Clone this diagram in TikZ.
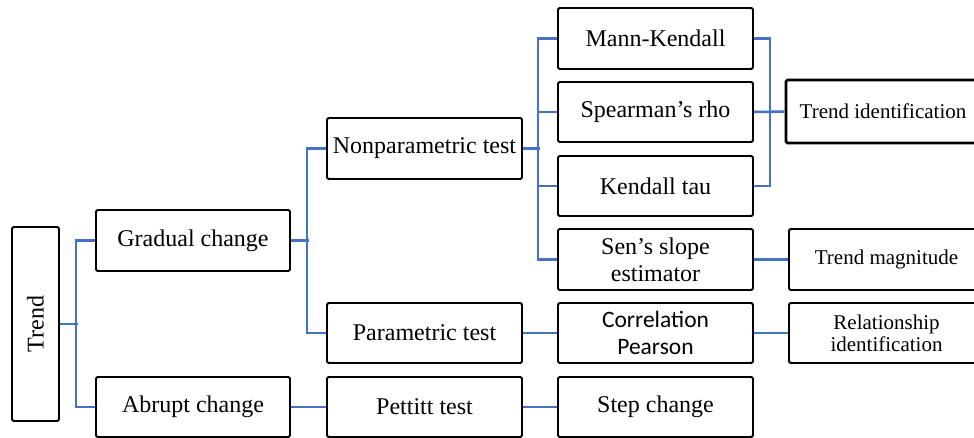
\documentclass[tikz,border=0pt]{standalone}
\usepackage{fontspec}
\usepackage{graphicx}
\setmainfont{Liberation Serif}
\newfontfamily\calfont{Carlito}
\definecolor{linkblue}{RGB}{68,114,196}
\begin{document}
\begin{tikzpicture}[x=1pt,y=-1pt,
  box/.style={draw=black, line width=1.9pt, rounded corners=1.5pt, inner sep=0pt, align=center,
    minimum width=195pt, minimum height=61pt, font=\fontsize{24}{27}\selectfont},
  rbox/.style={box, font=\fontsize{21}{22}\selectfont},
  conn/.style={draw=linkblue, line width=2.5pt}]
\useasboundingbox (0,0) rectangle (974,437);
% column 1
\node[box, minimum width=47pt, minimum height=194pt] (trend) at (35.5,324) {\rotatebox{90}{Trend}};
% column 2
\node[box, minimum width=194pt] (gradual) at (193,240.5) {Gradual change};
\node[box, minimum width=194pt, minimum height=60pt] (abrupt) at (193,407) {Abrupt change};
% column 3
\node[box] (nonpar) at (424.5,148.5) {Nonparametric test};
\node[box, minimum height=60pt] (param) at (424.5,333) {Parametric test};
\node[box, minimum height=60pt] (pettitt) at (424.5,407) {Pettitt test};
% column 4
\node[box] (mann) at (655.5,38.5) {Mann-Kendall};
\node[box, minimum height=60pt] (spear) at (655.5,112) {Spearman’s rho};
\node[box, minimum height=60pt] (kendall) at (655.5,186) {Kendall tau};
\node[box] (sen) at (655.5,259.5) {Sen’s slope\\estimator};
\node[box, minimum height=60pt, font=\calfont\fontsize{23.5}{27}\selectfont] (corr) at (655.5,333) {Correlation\\Pearson};
\node[box, minimum height=60pt] (step) at (655.5,407) {Step change};
% column 5
\node[rbox, line width=2.6pt, minimum width=194pt, minimum height=63pt] (trendid) at (883,111.5) {Trend identification};
\node[rbox] (trendmag) at (886.5,259.5) {Trend magnitude};
\node[rbox, minimum height=60pt] (relid) at (886.5,333) {Relationship\\identification};
% connectors
\draw[conn] (trend.east) -- ++(18,0);
\draw[conn] (gradual.west) -- ++(-19,0) |- (abrupt.west);
\draw[conn] (gradual.east) -- ++(18,0);
\draw[conn] (nonpar.west) -- ++(-19,0) |- (param.west);
\draw[conn] (nonpar.east) -- ++(17,0);
\draw[conn] (mann.west) -- ++(-19,0) |- (sen.west);
\draw[conn] (spear.west) -- ++(-19,0);
\draw[conn] (kendall.west) -- ++(-19,0);
\draw[conn] (mann.east) -- ++(16,0) |- (kendall.east);
\draw[conn] (spear.east) -- (trendid.west);
\draw[conn] (sen.east) -- (trendmag.west);
\draw[conn] (param.east) -- (corr.west);
\draw[conn] (corr.east) -- (relid.west);
\draw[conn] (abrupt.east) -- (pettitt.west);
\draw[conn] (pettitt.east) -- (step.west);
\end{tikzpicture}
\end{document}
